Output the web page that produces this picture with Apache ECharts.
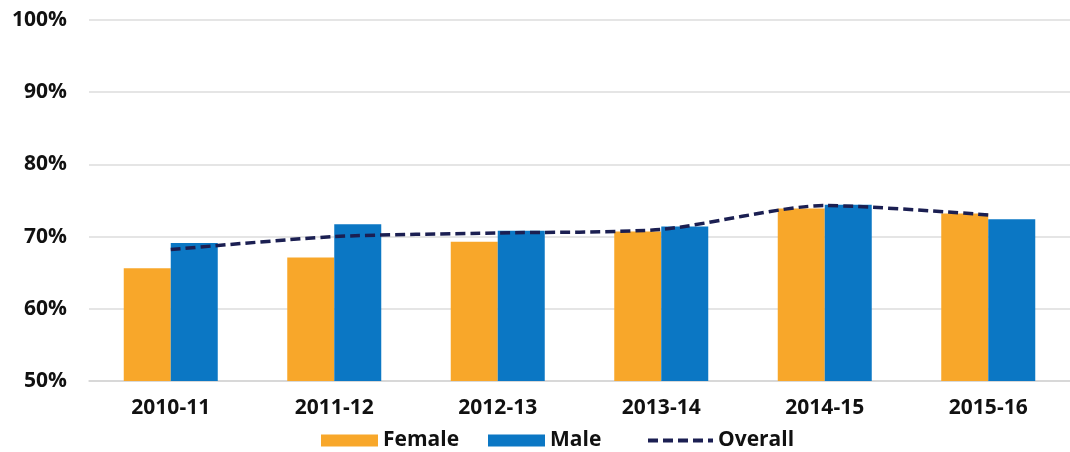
<!DOCTYPE html>
<html>
<head>
<meta charset="utf-8">
<script src="https://cdn.jsdelivr.net/npm/echarts@6/dist/echarts.min.js"></script>
<style>
  html, body { margin: 0; padding: 0; background: #ffffff; }
  #chart { width: 1070px; height: 452px; }
</style>
</head>
<body>
<div id="chart"></div>
<script>
// School years on the category axis
const years = ['2010-11', '2011-12', '2012-13', '2013-14', '2014-15', '2015-16'];

// Rates in percent
const female  = [65.6, 67.1, 69.3, 70.7, 73.9, 73.2];
const male    = [69.1, 71.7, 70.8, 71.4, 74.4, 72.4];
const overall = [68.2, 70.0, 70.5, 71.0, 74.3, 73.0];

// Value axis range and step
const yMin = 50, yMax = 100, yStep = 10;

const FONT = '"Open Sans", "DejaVu Sans", sans-serif';
const ORANGE = '#F8A72A';
const BLUE = '#0B77C4';
const NAVY = '#1B1F52';

// Dashed stroke used as the legend key of the overall line
const DASH_ICON = 'path://M0 0h10v4h-10z M15 0h10v4h-10z M30 0h10v4h-10z M45 0h10v4h-10z M60 0h5v4h-5z';

const legendText = { fontFamily: FONT, fontWeight: 'bold', fontSize: 21, color: '#111111' };

const chart = echarts.init(document.getElementById('chart'));
chart.setOption({
  animation: false,
  backgroundColor: '#ffffff',
  grid: { left: 89, top: 20, width: 990, height: 361, containLabel: false },
  legend: [
    {
      left: 316, top: 425, itemWidth: 57, itemHeight: 12,
      textStyle: legendText,
      data: [{ name: 'Female', icon: 'rect' }]
    },
    {
      left: 483, top: 425, itemWidth: 57, itemHeight: 12,
      textStyle: legendText,
      data: [{ name: 'Male', icon: 'rect' }]
    },
    {
      left: 643, top: 425, itemWidth: 65, itemHeight: 4,
      textStyle: legendText,
      data: [{ name: 'Overall', icon: DASH_ICON, itemStyle: { color: NAVY } }]
    }
  ],
  xAxis: {
    type: 'category',
    data: years,
    axisTick: { show: false },
    axisLine: { show: true, lineStyle: { color: '#d4d4d4', width: 1.5 } },
    axisLabel: {
      fontFamily: FONT, fontWeight: 'bold', fontSize: 21, color: '#111111', margin: 17
    }
  },
  yAxis: {
    type: 'value',
    min: yMin, max: yMax, interval: yStep,
    axisLine: { show: false },
    axisTick: { show: false },
    splitLine: { lineStyle: { color: '#dcdcdc', width: 1.5 } },
    axisLabel: {
      fontFamily: FONT, fontWeight: 'bold', fontSize: 21, color: '#111111', margin: 22,
      formatter: v => v + '%'
    }
  },
  series: [
    {
      name: 'Female', type: 'bar', data: female,
      barWidth: 47, barGap: '0%',
      itemStyle: { color: ORANGE }
    },
    {
      name: 'Male', type: 'bar', data: male,
      barWidth: 47, barGap: '0%',
      itemStyle: { color: BLUE }
    },
    {
      name: 'Overall', type: 'line', data: overall,
      smooth: 0.25, symbol: 'none', z: 5,
      itemStyle: { color: NAVY },
      lineStyle: { color: NAVY, width: 3.5, type: [10, 5] }
    }
  ]
});
</script>
</body>
</html>
